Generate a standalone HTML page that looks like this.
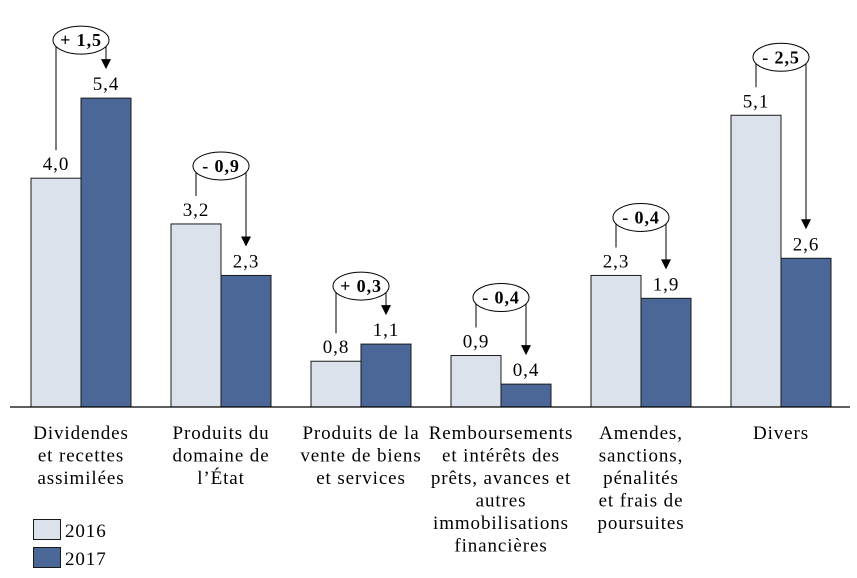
<!DOCTYPE html>
<html><head><meta charset="utf-8"><style>
html,body{margin:0;padding:0;background:#fff;}
svg text{font-family:"Liberation Serif",serif;letter-spacing:0.9px;}
</style></head><body>
<svg id="chart" width="857" height="578" viewBox="0 0 857 578" xmlns="http://www.w3.org/2000/svg" style="position:absolute;left:0;top:0"></svg>
<script>
const categories = [
  ["Dividendes","et recettes","assimilées"],
  ["Produits du","domaine de","l’État"],
  ["Produits de la","vente de biens","et services"],
  ["Remboursements","et intérêts des","prêts, avances et","autres","immobilisations","financières"],
  ["Amendes,","sanctions,","pénalités","et frais de","poursuites"],
  ["Divers"]
];
const values2016 = [4.0, 3.2, 0.8, 0.9, 2.3, 5.1];
const values2017 = [5.4, 2.3, 1.1, 0.4, 1.9, 2.6];
const deltaLabels = ["+ 1,5","- 0,9","+ 0,3","- 0,4","- 0,4","- 2,5"];

const svg = document.getElementById('chart');
const NS = "http://www.w3.org/2000/svg";
const baseY = 407, unit = 57.2, groupStart = 31, groupStep = 140, barW = 50;
const y = v => baseY - v * unit;
const xg = i => groupStart + i * groupStep;
const fmt = v => v.toFixed(1).replace('.', ',');
function mk(tag, attrs, parent){ const e=document.createElementNS(NS,tag); for(const k in attrs) e.setAttribute(k,attrs[k]); (parent||svg).appendChild(e); return e; }

categories.forEach((cat,i)=>{
  const x0 = xg(i);
  const v1 = values2016[i], v2 = values2017[i];
  const b1 = mk('rect',{x:x0,y:y(v1),width:barW,height:baseY-y(v1),fill:'#dce2ec',stroke:'#1a1a1a','stroke-width':1});
  
  
  const b2 = mk('rect',{x:x0+barW,y:y(v2),width:barW,height:baseY-y(v2),fill:'#4a6797',stroke:'#1a1a1a','stroke-width':1});
  
  
  const t1 = mk('text',{x:x0+barW/2,y:y(v1)-8,'text-anchor':'middle','font-size':19});
  t1.textContent = fmt(v1);
  
  
  const t2 = mk('text',{x:x0+barW*1.5,y:y(v2)-8,'text-anchor':'middle','font-size':19});
  t2.textContent = fmt(v2);
  
  
  const lx = x0+barW/2, rx = x0+barW*1.5;
  const ey = Math.min(y(v1),y(v2)) - 58;
  const ex = (lx+rx)/2;
  const tip = y(v2)-29;
  mk('line',{x1:lx,y1:ey,x2:lx,y2:y(v1)-28,stroke:'#000','stroke-width':1});
  mk('line',{x1:rx,y1:ey,x2:rx,y2:tip-9,stroke:'#000','stroke-width':1});
  const ah = mk('path',{d:'M'+(rx-5)+','+(tip-10)+' L'+(rx+5)+','+(tip-10)+' L'+rx+','+tip+' Z',fill:'#000'});
  
  
  const el = mk('ellipse',{cx:ex,cy:ey,rx:28,ry:14,fill:'#fff',stroke:'#000','stroke-width':1});
  
  
  const dt = mk('text',{x:ex,y:ey+6,'text-anchor':'middle','font-size':18,'font-weight':'bold'});
  dt.textContent = deltaLabels[i];
  
  
  const ct = mk('text',{x:x0+barW,y:439,'text-anchor':'middle','font-size':19});
  
  
  cat.forEach((line,j)=>{ const ts=mk('tspan',{x:x0+barW,dy:j?22.5:0},ct); ts.textContent=line; });
});
const ax = mk('line',{x1:10,y1:baseY,x2:850,y2:baseY,stroke:'#000','stroke-width':1.2});


</script>
<svg style="position:absolute;left:0;top:0" width="857" height="578">
<g>
<rect x="33.5" y="519.5" width="27" height="20" fill="#dce2ec" stroke="#1a1a1a"/>
<text x="65" y="537" font-size="19" font-family="Liberation Serif, serif">2016</text>
<rect x="33.5" y="547.5" width="27" height="20" fill="#4a6797" stroke="#1a1a1a"/>
<text x="65" y="565" font-size="19" font-family="Liberation Serif, serif">2017</text>
</g>
</svg>
</body></html>
